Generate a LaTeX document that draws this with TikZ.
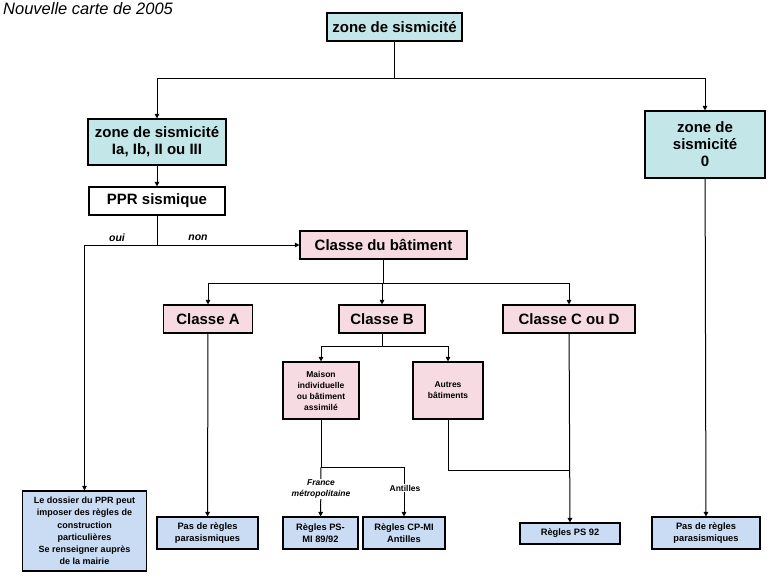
\documentclass[tikz,border=0pt]{standalone}
\usepackage{fontspec}
\setmainfont{Liberation Sans}
\usetikzlibrary{arrows.meta}
\definecolor{cyanbox}{HTML}{C3E6E8}
\definecolor{pinkbox}{HTML}{F6DCE2}
\definecolor{bluebox}{HTML}{CADCF3}
\tikzset{
  box/.style={draw=black, line width=1.1pt, inner sep=0pt, align=center, font=\bfseries},
  cbox/.style={box, fill=cyanbox},
  pbox/.style={box, fill=pinkbox},
  bbox/.style={box, fill=bluebox},
  wbox/.style={box, fill=white},
  big/.style={font=\fontsize{15}{17}\selectfont\bfseries},
  small/.style={font=\fontsize{8.5}{11}\selectfont\bfseries},
  low/.style={font=\fontsize{9.3}{12}\selectfont\bfseries},
  conn/.style={line width=1pt},
  arr/.style={conn, -{Triangle[length=4.5pt,width=4.5pt]}},
  lab/.style={font=\fontsize{10.5}{12}\selectfont\bfseries\itshape, inner sep=0pt},
}
\begin{document}
\begin{tikzpicture}[x=1pt,y=-1pt]
\useasboundingbox[fill=white] (0,0) rectangle (775,580);
\node[anchor=west, font=\fontsize{16.5}{18}\selectfont\itshape, inner sep=0pt] (title) at (3,8.5) {Nouvelle carte de 2005};

\node[cbox, big, minimum width=135pt, minimum height=28pt] (top) at (394.5,27) {zone de sismicité};
\node[cbox, big, minimum width=138pt, minimum height=46pt] (zL) at (157,142) {zone de sismicité\\Ia, Ib, II ou III};
\node[cbox, big, minimum width=120pt, minimum height=67pt] (z0) at (705,144.5) {zone de\\sismicité\\0};
\node[wbox, big, minimum width=136pt, minimum height=28pt] (ppr) at (157,201) {PPR sismique};
\node[pbox, big, minimum width=167pt, minimum height=28pt] (cdb) at (383.5,245) {Classe du bâtiment};
\node[pbox, big, minimum width=89pt, minimum height=28pt] (cA) at (208,319) {Classe A};
\node[pbox, big, minimum width=86pt, minimum height=28pt] (cB) at (382,319) {Classe B};
\node[pbox, big, minimum width=132pt, minimum height=28pt] (cCD) at (569,319) {Classe C ou D};
\node[pbox, small, minimum width=76pt, minimum height=57pt] (mais) at (321,390.5) {Maison\\individuelle\\ou bâtiment\\assimilé};
\node[pbox, small, minimum width=70pt, minimum height=57pt] (autres) at (448,390.5) {Autres\\bâtiments};
\node[bbox, minimum width=124pt, minimum height=80pt, font=\fontsize{9}{12.3}\selectfont\bfseries] (dossier) at (84.5,531) {Le dossier du PPR peut\\imposer des règles de\\construction\\particulières\\Se renseigner auprès\\de la mairie};
\node[bbox, low, minimum width=101pt, minimum height=32pt] (pasA) at (207.5,533) {Pas de règles\\parasismiques};
\node[bbox, low, minimum width=75pt, minimum height=32pt] (psmi) at (320.5,533) {Règles PS-\\MI 89/92};
\node[bbox, low, minimum width=82pt, minimum height=32pt] (cpmi) at (404,533) {Règles CP-MI\\Antilles};
\node[bbox, low, minimum width=100pt, minimum height=21pt] (ps92) at (570,533.5) {Règles PS 92};
\node[bbox, low, minimum width=108pt, minimum height=32pt] (pas0) at (706,533) {Pas de règles\\parasismiques};

\coordinate (j1) at (394.5,79);
\draw[conn] (top) -- (j1);
\draw[arr] (j1) -| (zL);
\draw[arr] (j1) -| (z0);
\draw[arr] (zL) -- (ppr);
\coordinate (j2) at (157,245);
\draw[conn] (ppr) -- (j2);
\draw[arr] (j2) -- (cdb);
\draw[arr] (j2) -| (dossier);
\node[lab] (oui) at (117,237.5) {oui};
\node[lab] (non) at (198,237.5) {non};
\coordinate (j3) at (383.5,283);
\draw[conn] (cdb) -- (j3);
\draw[arr] (j3) -| (cA);
\draw[arr] (j3) -| (cB);
\draw[arr] (j3) -| (cCD);
\coordinate (j4) at (382,346);
\draw[conn] (cB) -- (j4);
\draw[arr] (j4) -| (mais);
\draw[arr] (j4) -| (autres);
\coordinate (j5) at (321,467);
\draw[conn] (mais) -- (j5);
\draw[arr] (j5) -- (psmi);
\draw[arr] (j5) -| (cpmi);
\node[lab, align=center, font=\fontsize{8.5}{11}\selectfont\bfseries\itshape, fill=white, inner sep=1pt] (fm) at (321,489) {France\\métropolitaine};
\node[lab, font=\fontsize{8.5}{10}\selectfont\bfseries, fill=white, inner sep=1pt] (ant) at (405,488) {Antilles};
\coordinate (j6) at (448,470);
\coordinate (j7) at (570,470);
\draw[conn] (autres) -- (j6) -- (j7);
\draw[arr] (cCD) -- (ps92);
\draw[arr] (cA) -- (pasA);
\draw[arr] (z0) -- (pas0);
\end{tikzpicture}
\end{document}
